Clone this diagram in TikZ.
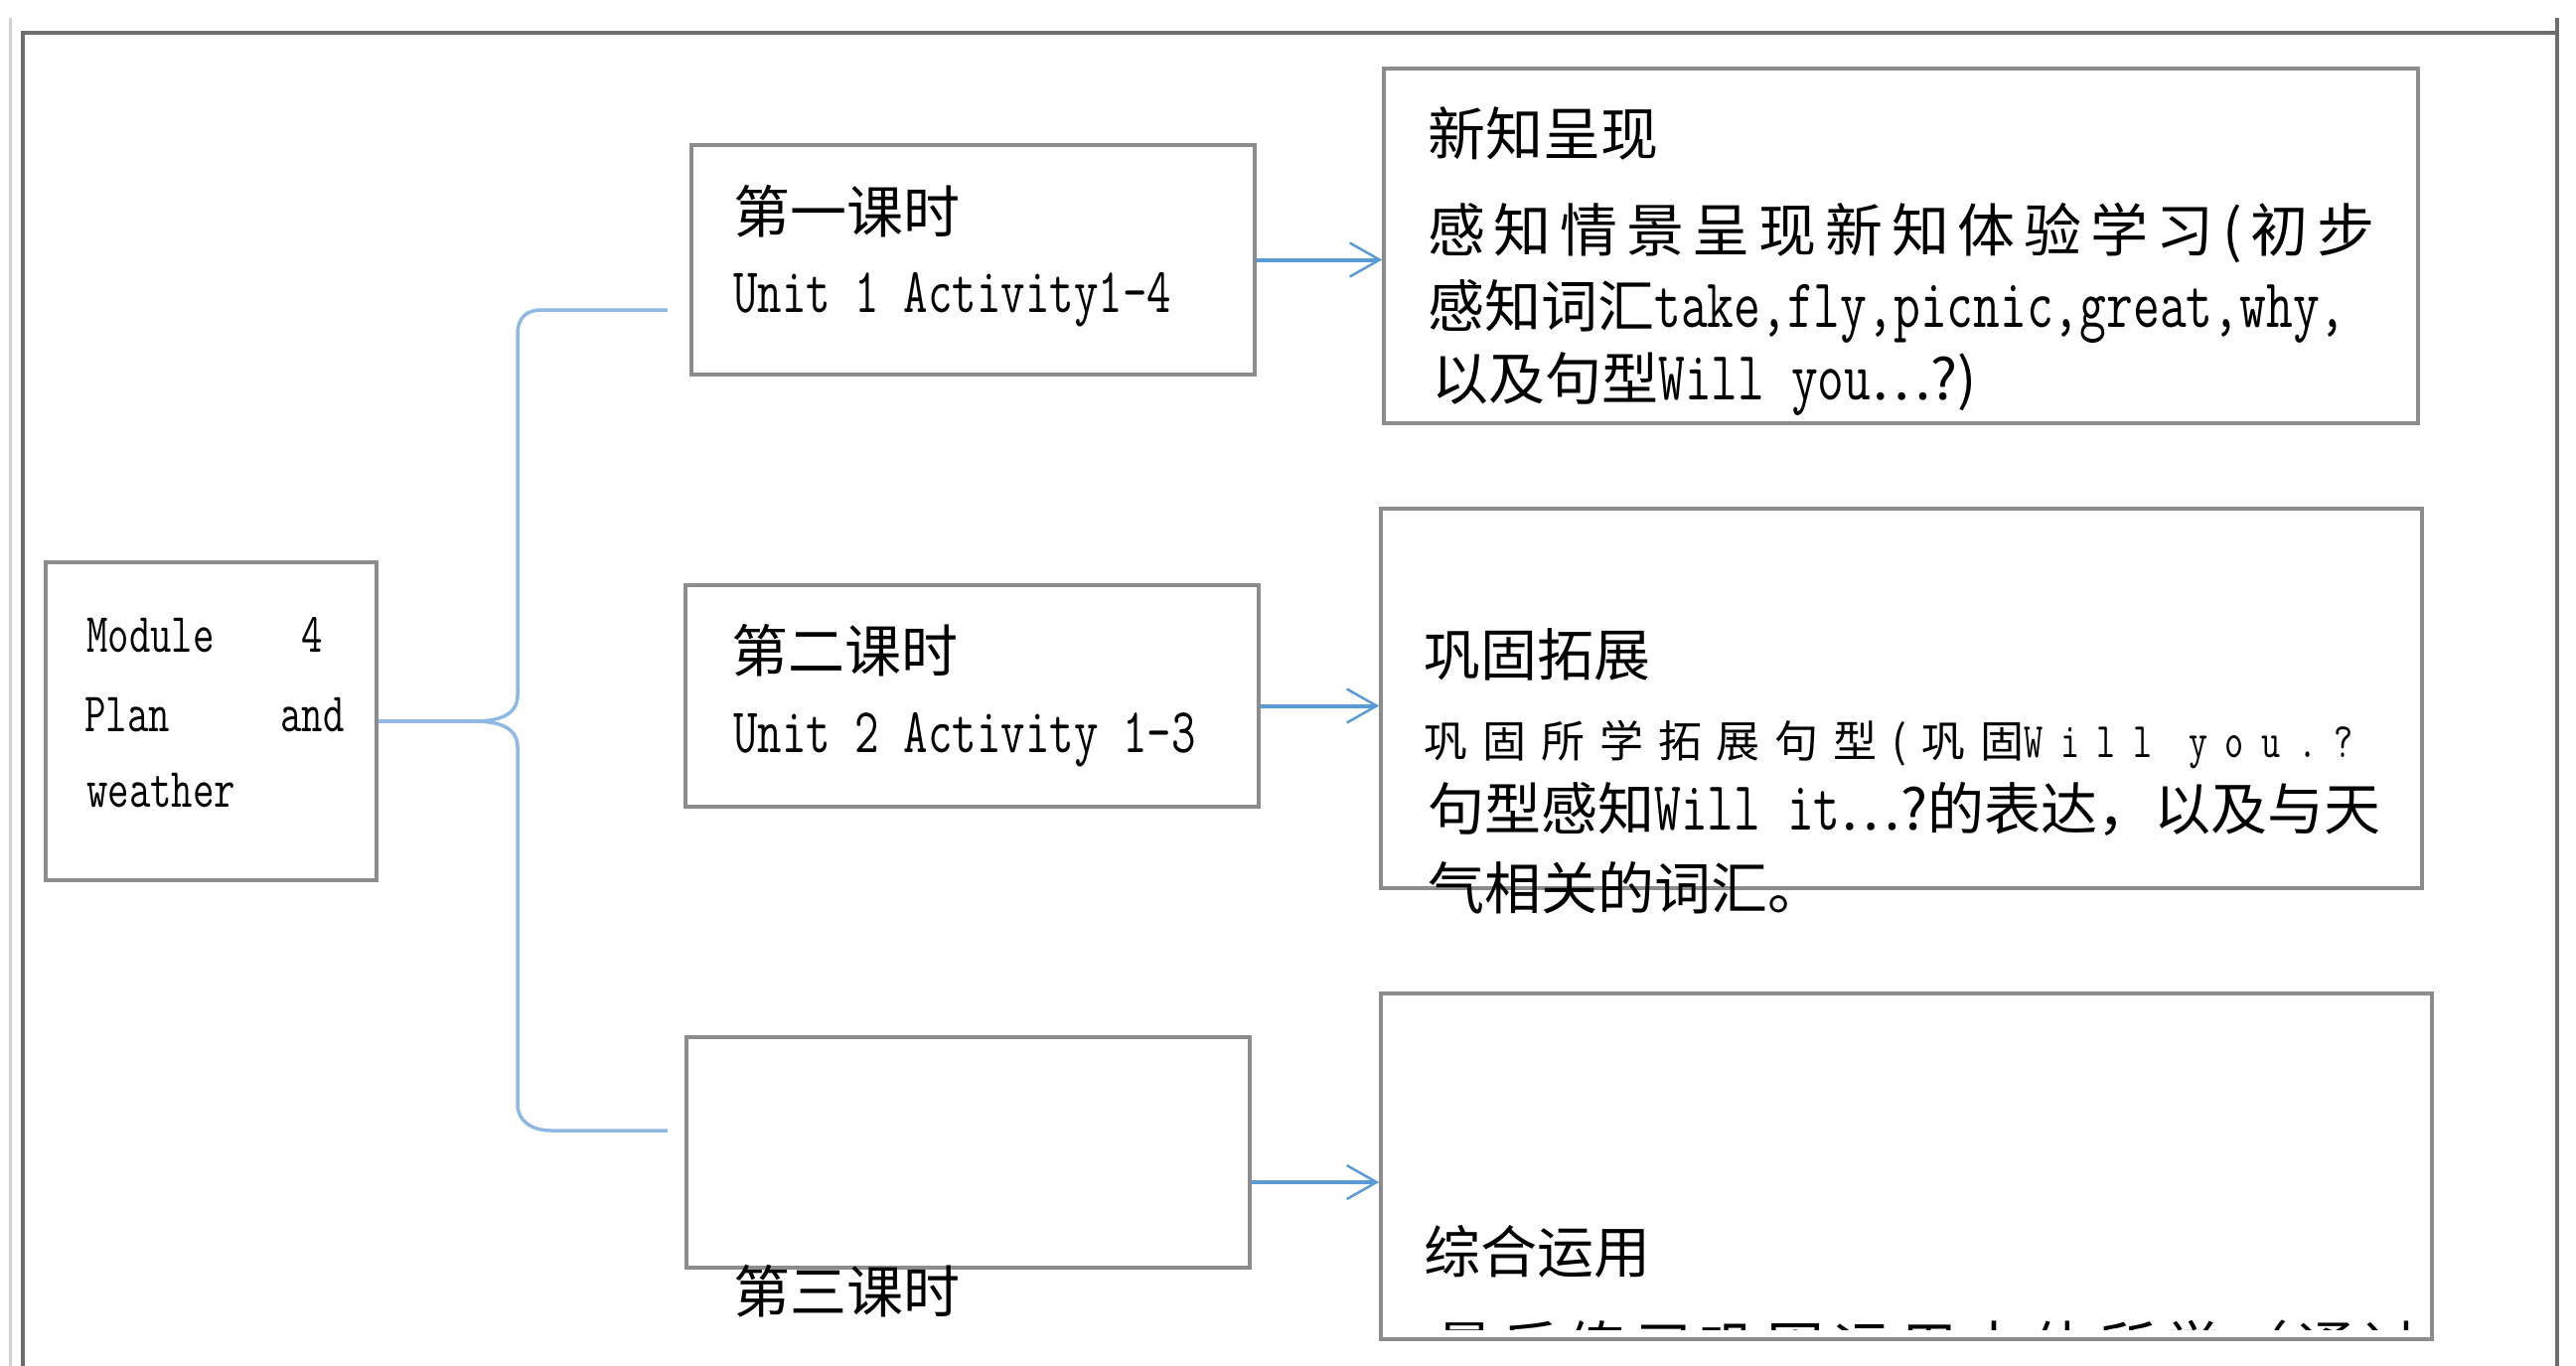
\documentclass[tikz,border=0pt]{standalone}
\usepackage{fontspec}
\newfontfamily\cjkf{Noto Sans CJK SC}
\newfontfamily\latf{Latin Modern Mono}[FakeStretch=0.743]
\usetikzlibrary{arrows.meta}
\newcommand\zh[2][57]{{\fontsize{#1}{#1}\cjkf #2}}
\newcommand\zhs[3]{{\fontsize{#1}{#1}\cjkf\addfontfeature{LetterSpace=#2}#3}}
\newcommand\en[2][64]{{\fontsize{#1}{#1}\latf #2}}
\newcommand\ens[3]{{\fontsize{#1}{#1}\latf\addfontfeature{LetterSpace=#2}#3}}
\definecolor{arrblue}{HTML}{5B9BD5}
\definecolor{braceblue}{HTML}{8FB9E3}
\definecolor{boxgray}{HTML}{8C8C8C}
\definecolor{framegray}{HTML}{6E6E6E}
\tikzset{
  box/.style={draw=boxgray, line width=3.5pt, inner sep=0pt, fill=white, rectangle},
  txt/.style={anchor=base west, inner sep=0pt, text=black},
  arr/.style={draw=arrblue, line width=4pt, -{Straight Barb[length=30pt,width=34pt,line width=2.5pt]}},
  bracel/.style={draw=braceblue, line width=3.5pt},
}
\begin{document}
\begin{tikzpicture}[x=1pt,y=-1pt]
\useasboundingbox (0,0) rectangle (2593,1375);
% outer frame
\draw[gray!35, line width=3pt] (10,18) -- (10,1375);
\draw[framegray, line width=4pt] (23,1375) -- (23,33) -- (2574,33);
\draw[framegray, line width=4pt] (2574,18) -- (2574,1375);
% boxes
\node[box, minimum width=333pt, minimum height=320pt] (m) at (212.5,726) {};
\node[box, minimum width=567pt, minimum height=231pt] (b1) at (979.5,261.5) {};
\node[box, minimum width=577pt, minimum height=223pt] (b2) at (978.5,700.5) {};
\node[box, minimum width=567pt, minimum height=232pt] (b3) at (974.5,1160) {};
\node[box, minimum width=1041pt, minimum height=357pt] (r1) at (1913.5,247.5) {};
\node[box, minimum width=1048pt, minimum height=382pt] (r2) at (1914,703) {};
\node[box, minimum width=1058pt, minimum height=348pt] (r3) at (1919,1174) {};
% module text
\node[txt] (mt1) at (87,656) {\en[56]{Module}};
\node[txt] (mt2) at (303,656) {\en[56]{4}};
\node[txt] (mt3) at (85,736) {\en[56]{Plan}};
\node[txt] (mt4) at (282,736) {\en[56]{and}};
\node[txt] (mt5) at (87,812) {\en[56]{weather}};
% lesson boxes
\node[txt] (b1t) at (738,234) {\zh{第一课时}};
\node[txt] (b1u) at (738,314) {\en[64]{Unit 1 Activity1-4}};
\node[txt] (b2t) at (736,676) {\zh{第二课时}};
\node[txt] (b2u) at (738,757) {\en[64]{Unit 2 Activity 1-3}};
\node[txt] (b3t) at (738,1321) {\zh{第三课时}};
% right box 1
\node[txt] (r1a) at (1437,157) {\zh[58]{新知呈现}};
\node[txt] (r1b) at (1437,253) {\zhs{58}{15}{感知情景呈现新知体验学习(初步}};
\node[txt] (r1c) at (1437,329) {\zh{感知词汇}\en[70]{take,fly,picnic,great,why,}};
\node[txt] (r1d) at (1441,402) {\zh{以及句型}\en[70]{Will you}\zh{…?)}};
% right box 2
\node[txt] (r2a) at (1433,680) {\zh{巩固拓展}};
\node[txt] (r2b) at (1433,762) {\zhs{44}{34}{巩固所学拓展句型(巩固}\ens{50}{35}{Will you.?}};
\node[txt] (r2c) at (1437,835) {\zh{句型感知}\en[70]{Will it}\zh{…?的表达，以及与天}};
\node[txt] (r2d) at (1437,915) {\zh{气相关的词汇。}};
% right box 3
\node[txt] (r3a) at (1433,1281) {\zh{综合运用}};
\begin{scope}
\clip (1430,1300) rectangle (2440,1338);
\node[txt] (r3b) at (1445,1378) {\zhs{58}{15}{最后练习巩固运用本体所学（通过}};
\end{scope}
% connectors
\coordinate (tip) at (478,726);
\coordinate (e1) at (672,312);
\coordinate (e3) at (672,1138);
\draw[bracel] (m.east) -- (tip);
\draw[bracel] (tip) .. controls (505,726) and (521,718) .. (521,700) -- (521,336) .. controls (521,320) and (530,312) .. (545,312) -- (e1);
\draw[bracel] (tip) .. controls (505,726) and (521,734) .. (521,752) -- (521,1112) .. controls (521,1128) and (535,1138) .. (555,1138) -- (e3);
\draw[arr] (b1.east) -- (b1.east -| r1.west);
\draw[arr] ([yshift=-10pt]b2.east) -- ([yshift=-10pt]b2.east -| r2.west);
\draw[arr] ([yshift=-30pt]b3.east) -- ([yshift=-30pt]b3.east -| r3.west);
\end{tikzpicture}
\end{document}
